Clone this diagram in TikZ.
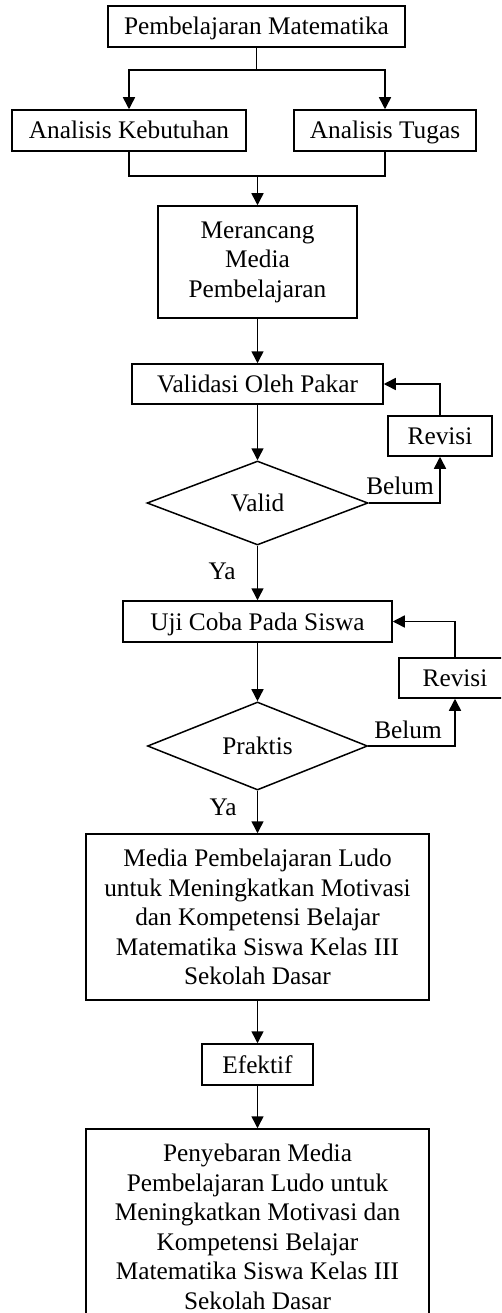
\documentclass[tikz,border=0pt]{standalone}
\usepackage{fontspec}
\setmainfont{Liberation Serif}
\usetikzlibrary{arrows.meta,shapes.geometric}
\begin{document}
\begin{tikzpicture}[x=1pt,y=-1pt,
  every node/.style={font=\fontsize{25.3}{29.5}\selectfont},
  box/.style={draw,line width=1.5pt,inner sep=0pt,align=center},
  one/.style={text height=20pt,text depth=3pt},
  dia/.style={draw,line width=1.5pt,diamond,inner sep=0pt},
  lab/.style={inner sep=0pt},
  arr/.style={line width=1.5pt,-{Triangle[length=12pt,width=12pt]}},
  ln/.style={line width=1.5pt}]
\useasboundingbox (0,0) rectangle (501,1313);
\clip (0,0) rectangle (501,1313);
\node[box,one,minimum width=297pt,minimum height=41pt] (pm) at (256.5,26.5) {Pembelajaran Matematika};
\node[box,one,minimum width=234pt,minimum height=41pt] (ak) at (129,130.5) {Analisis Kebutuhan};
\node[box,one,minimum width=182pt,minimum height=41pt] (at) at (385,130.5) {Analisis Tugas};
\node[box,minimum width=199pt,minimum height=112pt] (mr) at (257.5,262) {Merancang\\Media\\Pembelajaran};
\node[box,one,minimum width=251pt,minimum height=40pt] (vp) at (257.5,384) {Validasi Oleh Pakar};
\node[box,one,minimum width=104pt,minimum height=40pt] (rv1) at (440,436) {Revisi};
\node[dia,minimum width=221pt,minimum height=84pt] (dv) at (257.5,503) {Valid};
\node[box,one,minimum width=269pt,minimum height=41pt] (uj) at (257.5,621.5) {Uji Coba Pada Siswa};
\node[box,one,minimum width=112pt,minimum height=40pt] (rv2) at (455,678) {Revisi};
\node[dia,minimum width=220pt,minimum height=84pt] (dp) at (257.5,746) {Praktis};
\node[box,minimum width=343pt,minimum height=166pt] (big) at (257.5,917) {Media Pembelajaran Ludo\\untuk Meningkatkan Motivasi\\dan Kompetensi Belajar\\Matematika Siswa Kelas III\\Sekolah Dasar};
\node[box,one,minimum width=111pt,minimum height=41pt] (ef) at (257.5,1064.5) {Efektif};
\node[box,minimum width=343pt,minimum height=196pt] (fin) at (257.5,1227) {Penyebaran Media\\Pembelajaran Ludo untuk\\Meningkatkan Motivasi dan\\Kompetensi Belajar\\Matematika Siswa Kelas III\\Sekolah Dasar};
\node[lab] (b1) at (400,486) {Belum};
\node[lab] (b2) at (408,730) {Belum};
\node[lab] (y1) at (222,571) {Ya};
\node[lab] (y2) at (223,807) {Ya};
\coordinate (j1) at (256.5,70);
\coordinate (j2) at (257.5,176);
\draw[ln] (pm.south) -- (j1);
\draw[arr] (j1) -| (ak.north);
\draw[arr] (j1) -| (at.north);
\draw[ln] (ak.south) |- (j2);
\draw[ln] (at.south) |- (j2);
\draw[arr] (j2) -- (mr.north);
\draw[arr] (mr.south) -- (vp.north);
\draw[arr] (vp.south) -- (dv.north);
\draw[arr] (dv.east) -| (rv1.south);
\draw[arr] (rv1.north) |- (vp.east);
\draw[arr] (dv.south) -- (uj.north);
\draw[arr] (uj.south) -- (dp.north);
\draw[arr] (dp.east) -| (rv2.south);
\draw[arr] (rv2.north) |- (uj.east);
\draw[arr] (dp.south) -- (big.north);
\draw[arr] (big.south) -- (ef.north);
\draw[arr] (ef.south) -- (fin.north);
\end{tikzpicture}
\end{document}
